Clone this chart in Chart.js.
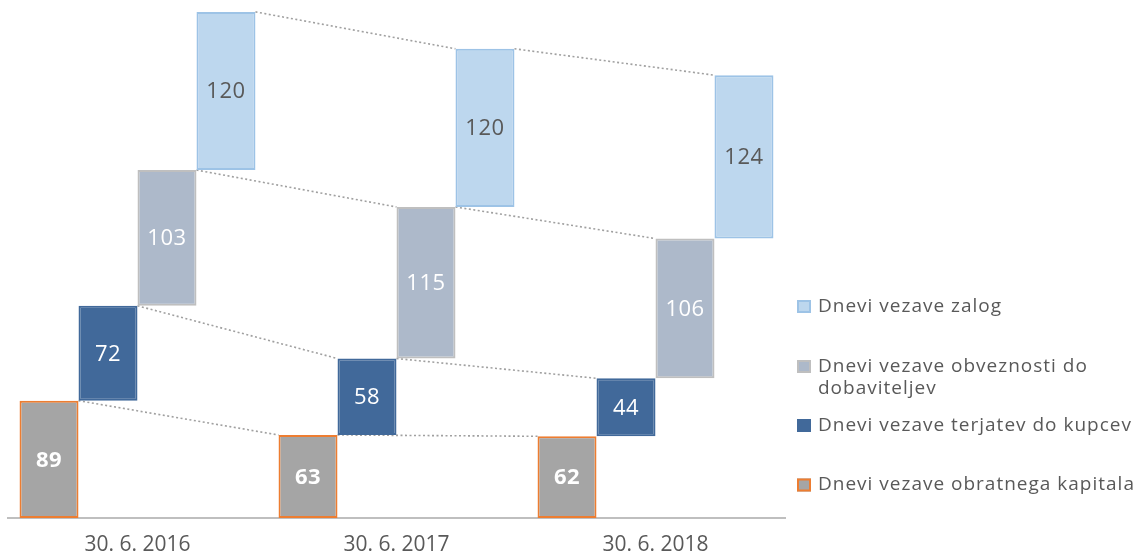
<!DOCTYPE html>
<html>
<head>
<meta charset="utf-8">
<script src="https://cdn.jsdelivr.net/npm/chart.js@4"></script>
<style>
html,body{margin:0;padding:0;background:#fff;}
canvas{display:block;}
</style>
</head>
<body>
<canvas id="c" width="1142" height="553"></canvas>
<script>
// ---- data ----
const categories = ['30. 6. 2016', '30. 6. 2017', '30. 6. 2018'];
const kapital    = [89, 63, 62];     // Dnevi vezave obratnega kapitala
const terjatve   = [72, 58, 44];     // Dnevi vezave terjatev do kupcev
const obveznosti = [103, 115, 106];  // Dnevi vezave obveznosti do dobaviteljev
const zaloge     = [120, 120, 124];  // Dnevi vezave zalog

const seriesNames = [
  'Dnevi vezave obratnega kapitala',
  'Dnevi vezave terjatev do kupcev',
  ['Dnevi vezave obveznosti do', 'dobaviteljev'],
  'Dnevi vezave zalog'
];

// cascade: each series floats on top of the previous ones
const seriesValues = [kapital, terjatve, obveznosti, zaloge];
const floating = seriesValues.map((vals, s) => vals.map((v, i) => {
  let start = 0;
  for (let k = 0; k < s; k++) start += seriesValues[k][i];
  return [start, start + v];
}));

const FONT = '"Open Sans", "DejaVu Sans", sans-serif';
const styles = [
  {bg: '#A5A5A5', border: '#ED7D31', label: '#FFFFFF', bold: true},
  {bg: '#41699A', border: '#41699A', label: '#FFFFFF', bold: false},
  {bg: '#ADB9CA', border: '#BFBFBF', label: '#FFFFFF', bold: false},
  {bg: '#BDD7EE', border: '#9DC3E6', label: '#595959', bold: false}
];

const connectorPlugin = {
  id: 'connectors',
  beforeDatasetsDraw(chart) {
    const ctx = chart.ctx;
    ctx.save();
    ctx.strokeStyle = '#A0A0A0';
    ctx.lineWidth = 1.6;
    ctx.setLineDash([2, 2.5]);
    chart.data.datasets.forEach((ds, di) => {
      const meta = chart.getDatasetMeta(di);
      for (let i = 0; i < meta.data.length - 1; i++) {
        const a = meta.data[i].getProps(['x', 'y', 'width'], true);
        const b = meta.data[i + 1].getProps(['x', 'y', 'width'], true);
        ctx.beginPath();
        ctx.moveTo(a.x + a.width / 2, a.y);
        ctx.lineTo(b.x - b.width / 2, b.y);
        ctx.stroke();
      }
    });
    ctx.restore();
  }
};

const labelPlugin = {
  id: 'barLabels',
  afterDatasetsDraw(chart) {
    const ctx = chart.ctx;
    ctx.save();
    ctx.textAlign = 'center';
    ctx.textBaseline = 'middle';
    ctx.letterSpacing = '0.5px';
    chart.data.datasets.forEach((ds, di) => {
      const meta = chart.getDatasetMeta(di);
      const st = styles[di];
      ctx.fillStyle = st.label;
      ctx.font = (st.bold ? 'bold ' : '') + '22px ' + FONT;
      meta.data.forEach((el, i) => {
        const p = el.getProps(['x', 'y', 'base'], true);
        ctx.fillText(String(seriesValues[di][i]), p.x, (p.y + p.base) / 2 + 1);
      });
    });
    ctx.restore();
  }
};

const legendPlugin = {
  id: 'customLegend',
  afterDraw(chart) {
    const ctx = chart.ctx;
    const order = [3, 2, 1, 0];
    const rowY = [306.5, 366.5, 425.5, 485];
    ctx.save();
    ctx.font = '19px ' + FONT;
    ctx.letterSpacing = '1px';
    ctx.textBaseline = 'middle';
    ctx.textAlign = 'left';
    order.forEach((di, r) => {
      const st = styles[di];
      const y = rowY[r];
      ctx.fillStyle = st.bg;
      ctx.fillRect(797, y - 6.5, 14, 13);
      ctx.strokeStyle = st.border;
      ctx.lineWidth = 2;
      ctx.strokeRect(798, y - 5.5, 12, 11);
      ctx.fillStyle = '#595959';
      const name = seriesNames[di];
      const lines = Array.isArray(name) ? name : [name];
      lines.forEach((ln, k) => ctx.fillText(ln, 818, y + k * 22));
    });
    ctx.restore();
  }
};

new Chart(document.getElementById('c'), {
  type: 'bar',
  data: {
    labels: categories,
    datasets: floating.map((d, di) => ({
      label: Array.isArray(seriesNames[di]) ? seriesNames[di].join(' ') : seriesNames[di],
      data: d,
      backgroundColor: styles[di].bg,
      borderColor: styles[di].border,
      borderWidth: 2,
      borderSkipped: false,
      categoryPercentage: 0.911,
      barPercentage: 1.0
    }))
  },
  options: {
    responsive: false,
    devicePixelRatio: 1,
    animation: false,
    layout: {padding: {left: 8, right: 357, top: 4, bottom: -20}},
    plugins: {legend: {display: false}, tooltip: {enabled: false}},
    scales: {
      y: {display: false, min: 0, max: 390},
      x: {
        grid: {display: false, drawTicks: false},
        border: {display: true, color: '#BFBFBF', width: 2},
        ticks: {color: '#595959', font: {family: FONT, size: 21, lineHeight: 1}, padding: 17}
      }
    }
  },
  plugins: [connectorPlugin, labelPlugin, legendPlugin]
});
</script>
</body>
</html>
